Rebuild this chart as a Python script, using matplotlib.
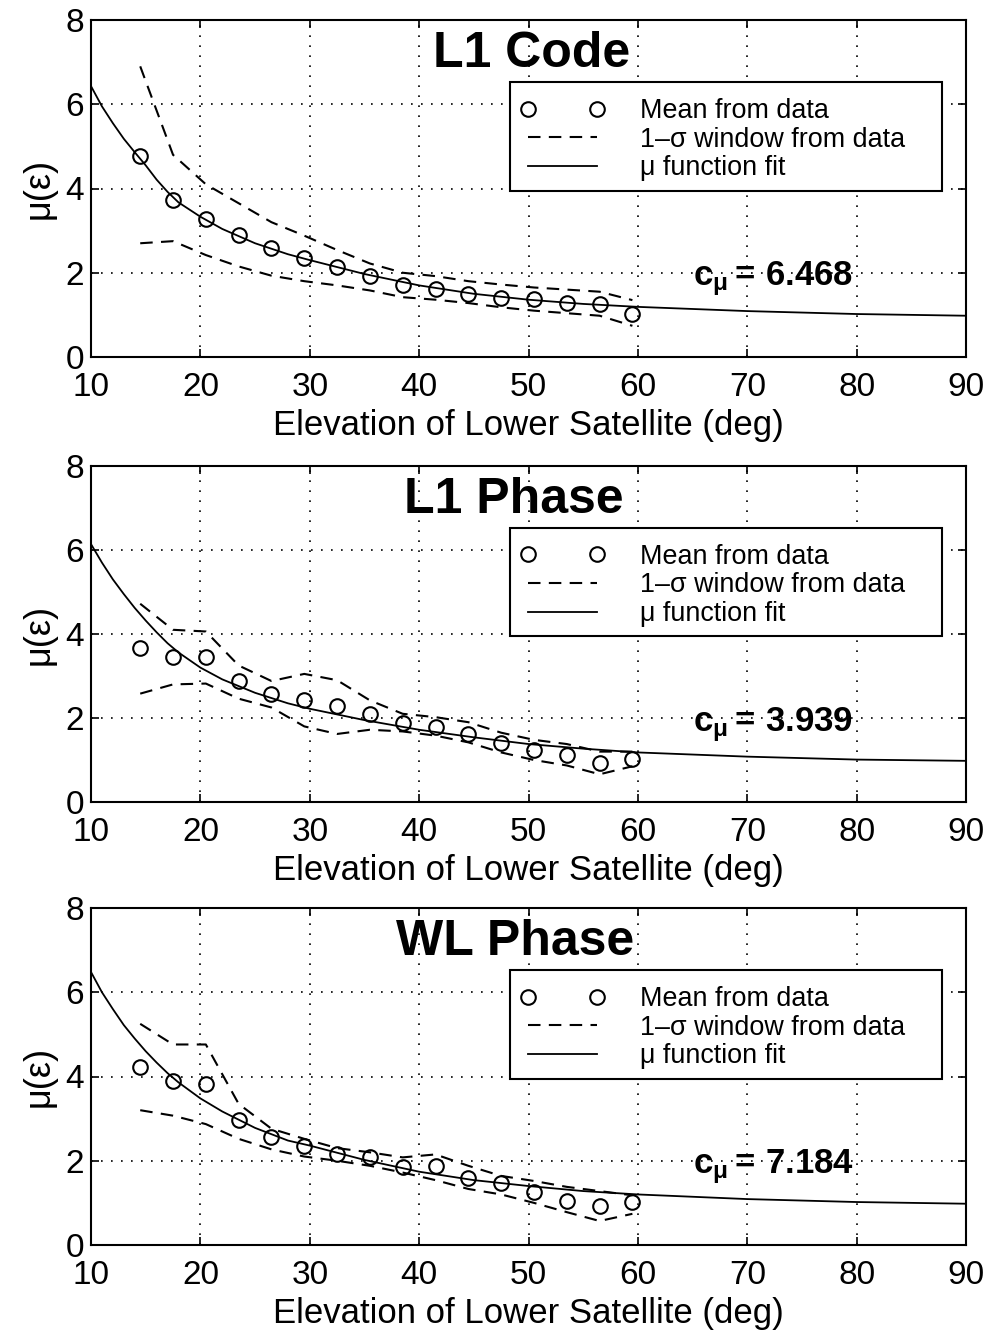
import matplotlib
matplotlib.use("Agg")
import matplotlib.pyplot as plt
from matplotlib.lines import Line2D
from matplotlib.patches import Rectangle

plt.rcParams["font.family"] = ["Liberation Sans", "DejaVu Sans"]
plt.rcParams["mathtext.fontset"] = "custom"
plt.rcParams["mathtext.rm"] = "Liberation Sans"
plt.rcParams["mathtext.bf"] = "Liberation Sans:bold"
plt.rcParams["mathtext.it"] = "Liberation Sans:italic"
plt.rcParams["lines.scale_dashes"] = False

# elevation bins of the data points (deg)
elev = [14.5, 17.5, 20.5, 23.5, 26.5, 29.5, 32.5, 35.5,
        38.5, 41.5, 44.5, 47.5, 50.5, 53.5, 56.5, 59.5]

# L1 code
code_mean = [4.76, 3.73, 3.27, 2.90, 2.58, 2.34, 2.13, 1.92,
             1.70, 1.61, 1.50, 1.40, 1.37, 1.28, 1.26, 1.02]
code_hi = [6.90, 4.80, 4.10, 3.65, 3.20, 2.88, 2.54, 2.22,
           2.00, 1.92, 1.80, 1.72, 1.65, 1.60, 1.55, 1.35]
code_lo = [2.70, 2.75, 2.42, 2.15, 1.93, 1.80, 1.70, 1.58,
           1.42, 1.36, 1.28, 1.18, 1.10, 1.04, 0.98, 0.74]

# L1 phase
phase_mean = [3.66, 3.45, 3.45, 2.88, 2.58, 2.44, 2.28, 2.10,
              1.87, 1.78, 1.62, 1.40, 1.24, 1.12, 0.94, 1.02]
phase_hi = [4.72, 4.10, 4.06, 3.25, 2.88, 3.05, 2.90, 2.42,
            2.10, 2.02, 1.90, 1.65, 1.48, 1.38, 1.20, 1.20]
phase_lo = [2.58, 2.80, 2.82, 2.46, 2.25, 1.80, 1.62, 1.72,
            1.68, 1.58, 1.42, 1.18, 1.00, 0.87, 0.66, 0.85]

# WL phase
wl_mean = [4.23, 3.90, 3.83, 2.97, 2.57, 2.36, 2.17, 2.08,
           1.84, 1.88, 1.60, 1.48, 1.25, 1.04, 0.92, 1.01]
wl_hi = [5.25, 4.76, 4.76, 3.35, 2.76, 2.52, 2.30, 2.20,
         2.08, 2.15, 1.88, 1.64, 1.52, 1.38, 1.28, 1.18]
wl_lo = [3.20, 3.07, 2.87, 2.52, 2.27, 2.10, 2.00, 1.88,
         1.72, 1.54, 1.33, 1.20, 1.00, 0.78, 0.57, 0.74]

# mu function fit
fit_elev = [10, 11, 12, 13, 14, 15, 16, 17, 18, 20, 22, 25,
            28, 30, 35, 40, 45, 50, 55, 60, 70, 80, 90]
code_fit = [6.43, 5.95, 5.55, 5.18, 4.86, 4.55, 4.21, 3.92, 3.67, 3.33, 3.04, 2.70,
            2.44, 2.30, 1.97, 1.70, 1.50, 1.36, 1.26, 1.19, 1.09, 1.02, 0.98]
phase_fit = [6.14, 5.70, 5.30, 4.95, 4.62, 4.32, 4.04, 3.78, 3.56, 3.20, 2.92, 2.60,
             2.35, 2.22, 1.95, 1.72, 1.54, 1.38, 1.27, 1.18, 1.08, 1.01, 0.98]
wl_fit = [6.48, 6.00, 5.60, 5.22, 4.90, 4.60, 4.33, 4.08, 3.86, 3.48, 3.17, 2.78,
          2.48, 2.36, 2.02, 1.74, 1.54, 1.40, 1.28, 1.20, 1.09, 1.02, 0.98]

titles = ["L1 Code", "L1 Phase", "WL Phase"]
title_x = [50.3, 48.7, 48.8]
c_mu = ["6.468", "3.939", "7.184"]
means = [code_mean, phase_mean, wl_mean]
highs = [code_hi, phase_hi, wl_hi]
lows = [code_lo, phase_lo, wl_lo]
fits = [code_fit, phase_fit, wl_fit]

xticks = [10, 20, 30, 40, 50, 60, 70, 80, 90]
yticks = [0, 2, 4, 6, 8]

W, H = 992, 1331
fig = plt.figure(figsize=(W / 100, H / 100), dpi=100)

# axes boxes in pixels: (top, bottom)
boxes = [(20, 357), (466, 802), (908, 1245)]
left_px, right_px = 91, 966

dash = (9, 6)

for i, (top, bot) in enumerate(boxes):
    ax = fig.add_axes([left_px / W, 1 - bot / H, (right_px - left_px) / W, (bot - top) / H])

    ax.plot(fit_elev, fits[i], color="k", lw=1.3, zorder=3)
    ax.plot(elev, highs[i], color="k", lw=1.5, dashes=dash, zorder=3)
    ax.plot(elev, lows[i], color="k", lw=1.5, dashes=dash, zorder=3)
    ax.plot(elev, means[i], "o", mfc="none", mec="k", ms=10.5, mew=1.5, zorder=4)

    ax.set_xlim(10, 90)
    ax.set_ylim(0, 8)
    ax.set_xticks(xticks)
    ax.set_yticks(yticks)
    ax.grid(True, color="k", lw=1.2, dashes=(1.2, 6))
    ax.set_axisbelow(True)
    ax.tick_params(direction="in", top=True, right=True, length=6, width=1.2,
                   labelsize=24)
    ax.tick_params(axis="x", pad=11)
    ax.tick_params(axis="y", pad=5)
    for sp in ax.spines.values():
        sp.set_linewidth(1.5)

    ax.set_xlabel("Elevation of Lower Satellite (deg)", fontsize=25, labelpad=4)
    ax.set_ylabel("μ(ε)", fontsize=26, labelpad=6)

    ax.text(title_x[i], 7.2, titles[i], fontsize=36, fontweight="bold",
            ha="center", va="center", zorder=5)
    ax.text(65.0, 1.85, r"$\mathbf{c}_{\mathbf{\mu}}\mathbf{=\,%s}$" % c_mu[i], fontsize=25,
            ha="left", va="center", zorder=5)

    # legend box
    ax.add_patch(Rectangle((0.479, 0.4926), 0.4937, 0.3234, transform=ax.transAxes,
                           facecolor="white", edgecolor="k", lw=1.5, zorder=6))
    handles = [
        Line2D([], [], marker="o", ls="none", mfc="none", mec="k", ms=10.5, mew=1.5),
        Line2D([], [], color="k", lw=1.5, dashes=dash),
        Line2D([], [], color="k", lw=1.3),
    ]
    labels = ["Mean from data", "1–σ window from data", "μ function fit"]
    leg = ax.legend(handles, labels, loc="center left", bbox_to_anchor=(0.4903, 0.645),
                    frameon=False, fontsize=19.4, numpoints=2, handlelength=3.16,
                    handletextpad=1.3, borderpad=0, borderaxespad=0, labelspacing=0.1)
    leg.set_zorder(7)

fig.savefig("out.png", dpi=100)
